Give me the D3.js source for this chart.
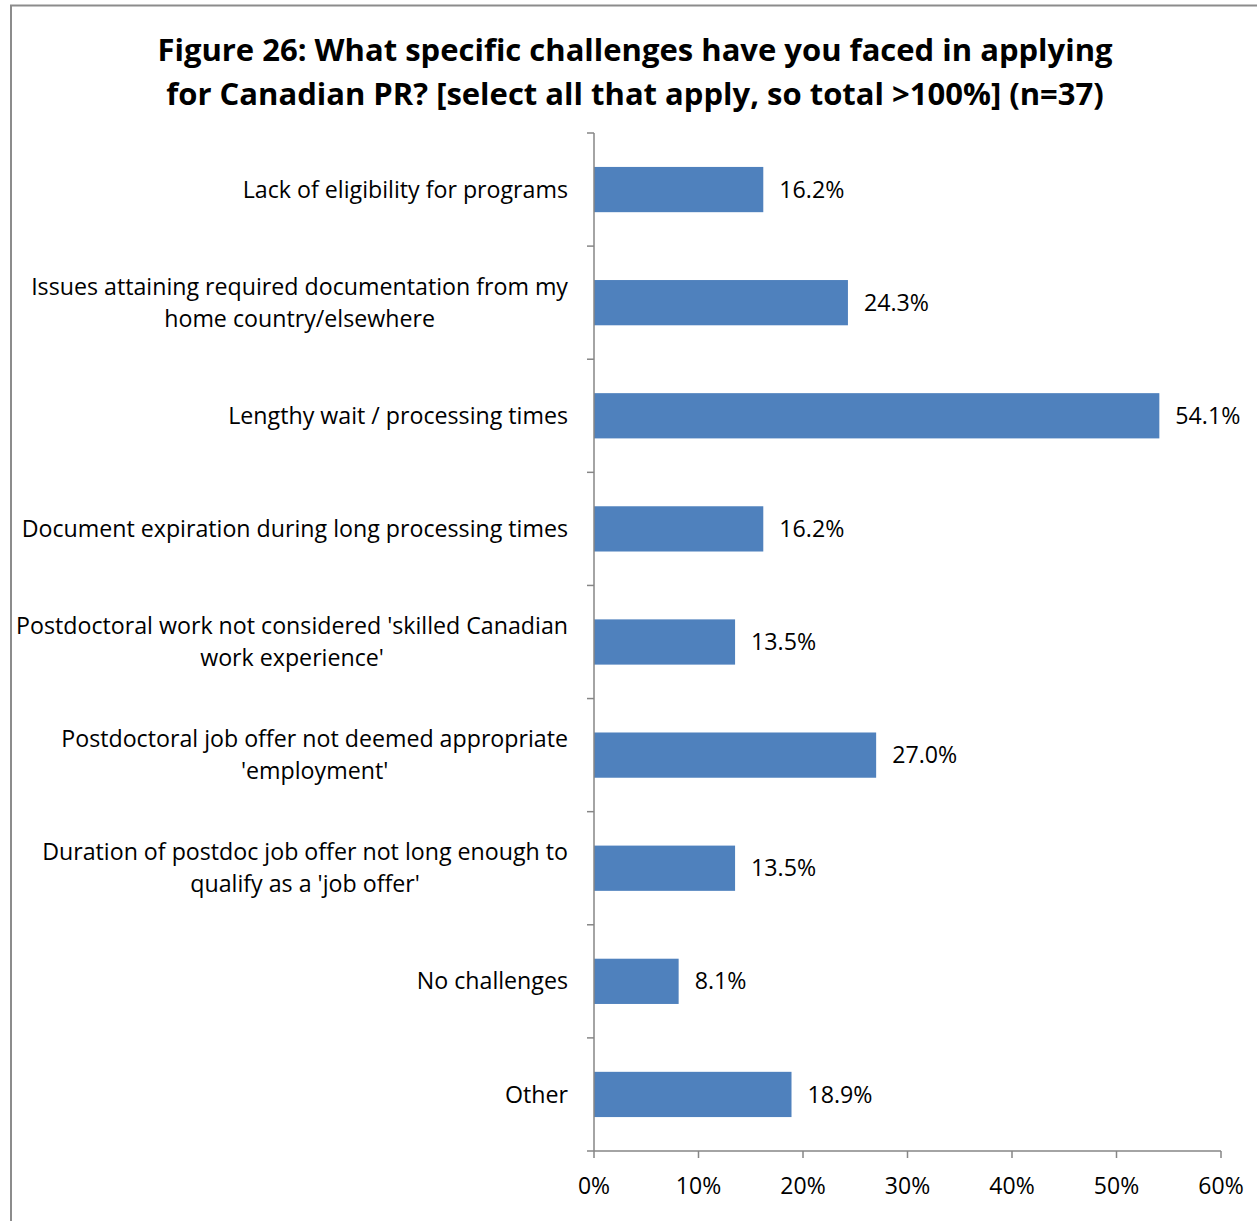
<!DOCTYPE html>
<html>
<head>
<meta charset="utf-8">
<script src="https://cdn.jsdelivr.net/npm/d3@7"></script>
<style>
  html, body { margin: 0; padding: 0; background: #fff; }
  svg { display: block; }
  text { font-family: "Open Sans", Lato, sans-serif; fill: #000; }
</style>
</head>
<body>
<svg id="chart" width="1257" height="1221"></svg>
<script>
const titleLines = [
  "Figure 26: What specific challenges have you faced in applying",
  "for Canadian PR? [select all that apply, so total >100%] (n=37)"
];
const categories = [
  ["Lack of eligibility for programs"],
  ["Issues attaining required documentation from my", "home country/elsewhere"],
  ["Lengthy wait / processing times"],
  ["Document expiration during long processing times"],
  ["Postdoctoral work not considered 'skilled Canadian", "work experience'"],
  ["Postdoctoral job offer not deemed appropriate", "'employment'"],
  ["Duration of postdoc job offer not long enough to", "qualify as a 'job offer'"],
  ["No challenges"],
  ["Other"]
];
const values = [16.2, 24.3, 54.1, 16.2, 13.5, 27.0, 13.5, 8.1, 18.9];
const xTicks = [0, 10, 20, 30, 40, 50, 60];

const svg = d3.select("#chart");

// frame
svg.append("path")
  .attr("d", "M11,1221 L11,5.5 L1257,5.5")
  .attr("fill", "none").attr("stroke", "#8c8c8c").attr("stroke-width", 2);

// title
const title = svg.append("text")
  .attr("text-anchor", "middle")
  .style("font-weight", "bold").style("font-size", "31px");
titleLines.forEach((t, i) => {
  title.append("tspan").attr("x", 635).attr("y", 61 + i * 44).text(t);
});

const x0 = 594, x1 = 1221, yTop = 133, yBot = 1151;
const x = d3.scaleLinear().domain([0, 60]).range([x0, x1]);
const idx = d3.range(categories.length);
const y = d3.scaleBand().domain(idx).range([yTop, yBot]).paddingInner(0.6).paddingOuter(0.3);
const yb = d3.scaleBand().domain(idx).range([yTop, yBot]);

// bars
svg.append("g").selectAll("rect").data(values).join("rect")
  .attr("x", x(0))
  .attr("y", (d, i) => y(i))
  .attr("width", d => x(d) - x(0))
  .attr("height", y.bandwidth())
  .attr("fill", "#4f81bd");

// value labels
svg.append("g").selectAll("text").data(values).join("text")
  .attr("x", d => x(d) + 16)
  .attr("y", (d, i) => y(i) + y.bandwidth() / 2)
  .attr("dy", "0.35em")
  .style("font-size", "23.2px")
  .text(d => d.toFixed(1) + "%");

// category axis
const axisColor = "#868686";
const gy = svg.append("g");
gy.append("line").attr("x1", x0).attr("x2", x0).attr("y1", yTop).attr("y2", yBot)
  .attr("stroke", axisColor).attr("stroke-width", 1.5);
gy.selectAll("line.tk").data(d3.range(categories.length + 1)).join("line")
  .attr("class", "tk")
  .attr("x1", x0 - 7).attr("x2", x0)
  .attr("y1", i => i < categories.length ? yb(i) : yBot)
  .attr("y2", i => i < categories.length ? yb(i) : yBot)
  .attr("stroke", axisColor).attr("stroke-width", 1.5);

// category labels
const labelRight = 568;
const lineH = 32;
categories.forEach((lines, i) => {
  const cy = yb(i) + yb.bandwidth() / 2;
  const g = svg.append("text").style("font-size", "23.2px").attr("text-anchor", "middle");
  const tspans = lines.map((l, j) => g.append("tspan")
    .attr("y", cy + (j - (lines.length - 1) / 2) * lineH)
    .attr("dy", "0.35em").text(l));
  const maxW = d3.max(tspans, t => t.node().getComputedTextLength());
  tspans.forEach(t => t.attr("x", labelRight - maxW / 2));
});

// x axis
const gx = svg.append("g");
gx.append("line").attr("x1", x0).attr("x2", x1).attr("y1", yBot).attr("y2", yBot)
  .attr("stroke", axisColor).attr("stroke-width", 1.5);
gx.selectAll("line.tk").data(xTicks).join("line").attr("class", "tk")
  .attr("x1", d => x(d)).attr("x2", d => x(d))
  .attr("y1", yBot).attr("y2", yBot + 7)
  .attr("stroke", axisColor).attr("stroke-width", 1.5);
gx.selectAll("text").data(xTicks).join("text")
  .attr("x", d => x(d)).attr("y", 1194)
  .attr("text-anchor", "middle")
  .style("font-size", "23px")
  .text(d => d + "%");
</script>
</body>
</html>
